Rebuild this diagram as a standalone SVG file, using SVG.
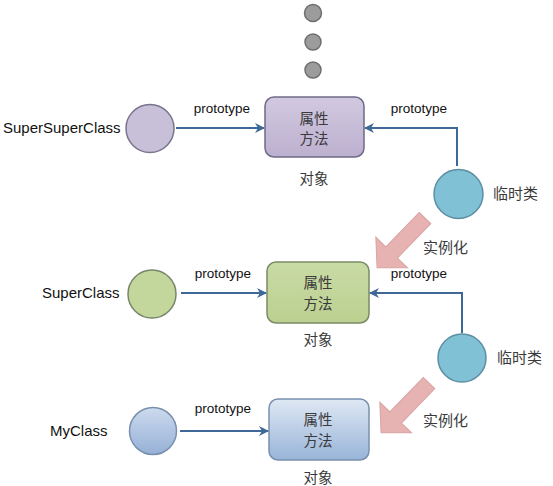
<svg xmlns="http://www.w3.org/2000/svg" width="553" height="486" viewBox="0 0 553 486">
  <defs>
    <linearGradient id="gPurple" x1="0" y1="0" x2="0" y2="1">
      <stop offset="0" stop-color="#d2c9e0"/>
      <stop offset="1" stop-color="#bcb0cf"/>
    </linearGradient>
    <linearGradient id="gGreen" x1="0" y1="0" x2="0" y2="1">
      <stop offset="0" stop-color="#c9dba5"/>
      <stop offset="1" stop-color="#bbd090"/>
    </linearGradient>
    <linearGradient id="gBlue" x1="0" y1="0" x2="0" y2="1">
      <stop offset="0" stop-color="#dfe8f4"/>
      <stop offset="1" stop-color="#98b4d8"/>
    </linearGradient>
    <linearGradient id="gBlueC" x1="0" y1="0" x2="0" y2="1">
      <stop offset="0" stop-color="#cddaee"/>
      <stop offset="1" stop-color="#95b1d6"/>
    </linearGradient>
    <marker id="arr" viewBox="0 0 10 10" refX="9" refY="5" markerWidth="5" markerHeight="5" orient="auto" markerUnits="strokeWidth">
      <path d="M0,0 L10,5 L0,10 L3,5 Z" fill="#3d6898"/>
    </marker>
    <path id="bigArrow" d="M0,-8 L48,-8 L48,-22 L69,0 L48,22 L48,8 L0,8 Z"/>
  </defs>
  <style>
    .en { font-family: "Liberation Sans", Arial, sans-serif; fill: #111; }
    .cls { font-size: 15px; }
    .proto { font-size: 13.5px; }
    .zh { font-family: "Noto Sans CJK SC", "Noto Sans", sans-serif; font-size: 14.5px; fill: #3a3a3a; }
    .zhl { font-family: "Noto Sans CJK SC", "Noto Sans", sans-serif; font-size: 15px; fill: #3a3a3a; }
    .conn { fill: none; stroke: #3d6898; stroke-width: 2; marker-end: url(#arr); }
    .dot { fill: #9c9c9c; stroke: #6e6e6e; stroke-width: 1.5; }
    .temp { fill: #80c1d5; stroke: #5d8ea3; stroke-width: 1.5; }
    .pink { fill: #e6b3b2; stroke: #d9a3a3; stroke-width: 1; }
  </style>

  <g id="dots">
    <circle class="dot" cx="313" cy="13" r="8.5"/>
    <circle class="dot" cx="313" cy="42" r="8"/>
    <circle class="dot" cx="313" cy="70" r="8"/>
  </g>

  <!-- Row 1 -->
  <g id="superSuperClass">
    <text class="en cls" x="3" y="133">SuperSuperClass</text>
    <circle cx="150" cy="128.5" r="24" fill="#c8bfd9" stroke="#7a758e" stroke-width="1.5"/>
  </g>
  <g id="obj1">
    <rect x="265" y="97" width="99" height="60" rx="9" fill="url(#gPurple)" stroke="#6f6a87" stroke-width="1.5"/>
    <text class="zh" x="314" y="124" text-anchor="middle">属性</text>
    <text class="zh" x="314" y="144" text-anchor="middle">方法</text>
    <text class="zh" x="314" y="184" text-anchor="middle">对象</text>
  </g>
  <g id="temp1">
    <circle class="temp" cx="458.5" cy="194" r="24.5"/>
    <text class="zhl" x="493" y="199">临时类</text>
  </g>

  <!-- Row 2 -->
  <g id="superClass">
    <text class="en cls" x="42" y="298">SuperClass</text>
    <circle cx="152" cy="294" r="24" fill="#c3d69b" stroke="#77876b" stroke-width="1.5"/>
  </g>
  <g id="obj2">
    <rect x="267" y="262" width="102" height="61" rx="9" fill="url(#gGreen)" stroke="#7b8b66" stroke-width="1.5"/>
    <text class="zh" x="318" y="288" text-anchor="middle">属性</text>
    <text class="zh" x="318" y="309" text-anchor="middle">方法</text>
    <text class="zh" x="318" y="345" text-anchor="middle">对象</text>
  </g>
  <g id="temp2">
    <circle class="temp" cx="462" cy="358" r="24"/>
    <text class="zhl" x="497" y="363">临时类</text>
  </g>

  <!-- Row 3 -->
  <g id="myClass">
    <text class="en cls" x="50" y="436">MyClass</text>
    <circle cx="153" cy="431" r="23.5" fill="url(#gBlueC)" stroke="#7890ae" stroke-width="1.5"/>
  </g>
  <g id="obj3">
    <rect x="269" y="399" width="100" height="61" rx="9" fill="url(#gBlue)" stroke="#7890ae" stroke-width="1.5"/>
    <text class="zh" x="318" y="425" text-anchor="middle">属性</text>
    <text class="zh" x="318" y="446" text-anchor="middle">方法</text>
    <text class="zh" x="318" y="483" text-anchor="middle">对象</text>
  </g>

  <!-- Connectors -->
  <g id="connectors">
    <path class="conn" d="M176,128 L264,128"/>
    <text class="en proto" x="222" y="113" text-anchor="middle">prototype</text>
    <path class="conn" d="M457,166 L457,128 L365,128"/>
    <text class="en proto" x="419" y="113" text-anchor="middle">prototype</text>

    <path class="conn" d="M181,293 L266,293"/>
    <text class="en proto" x="223" y="278" text-anchor="middle">prototype</text>
    <path class="conn" d="M462,333 L462,293 L370,293"/>
    <text class="en proto" x="419" y="278" text-anchor="middle">prototype</text>

    <path class="conn" d="M180,431 L268,431"/>
    <text class="en proto" x="223" y="413" text-anchor="middle">prototype</text>

    <use href="#bigArrow" class="pink" transform="translate(425,218) rotate(134)"/>
    <text class="zhl" x="423" y="253">实例化</text>
    <use href="#bigArrow" class="pink" transform="translate(429,383) rotate(134)"/>
    <text class="zhl" x="423" y="426">实例化</text>
  </g>
</svg>
